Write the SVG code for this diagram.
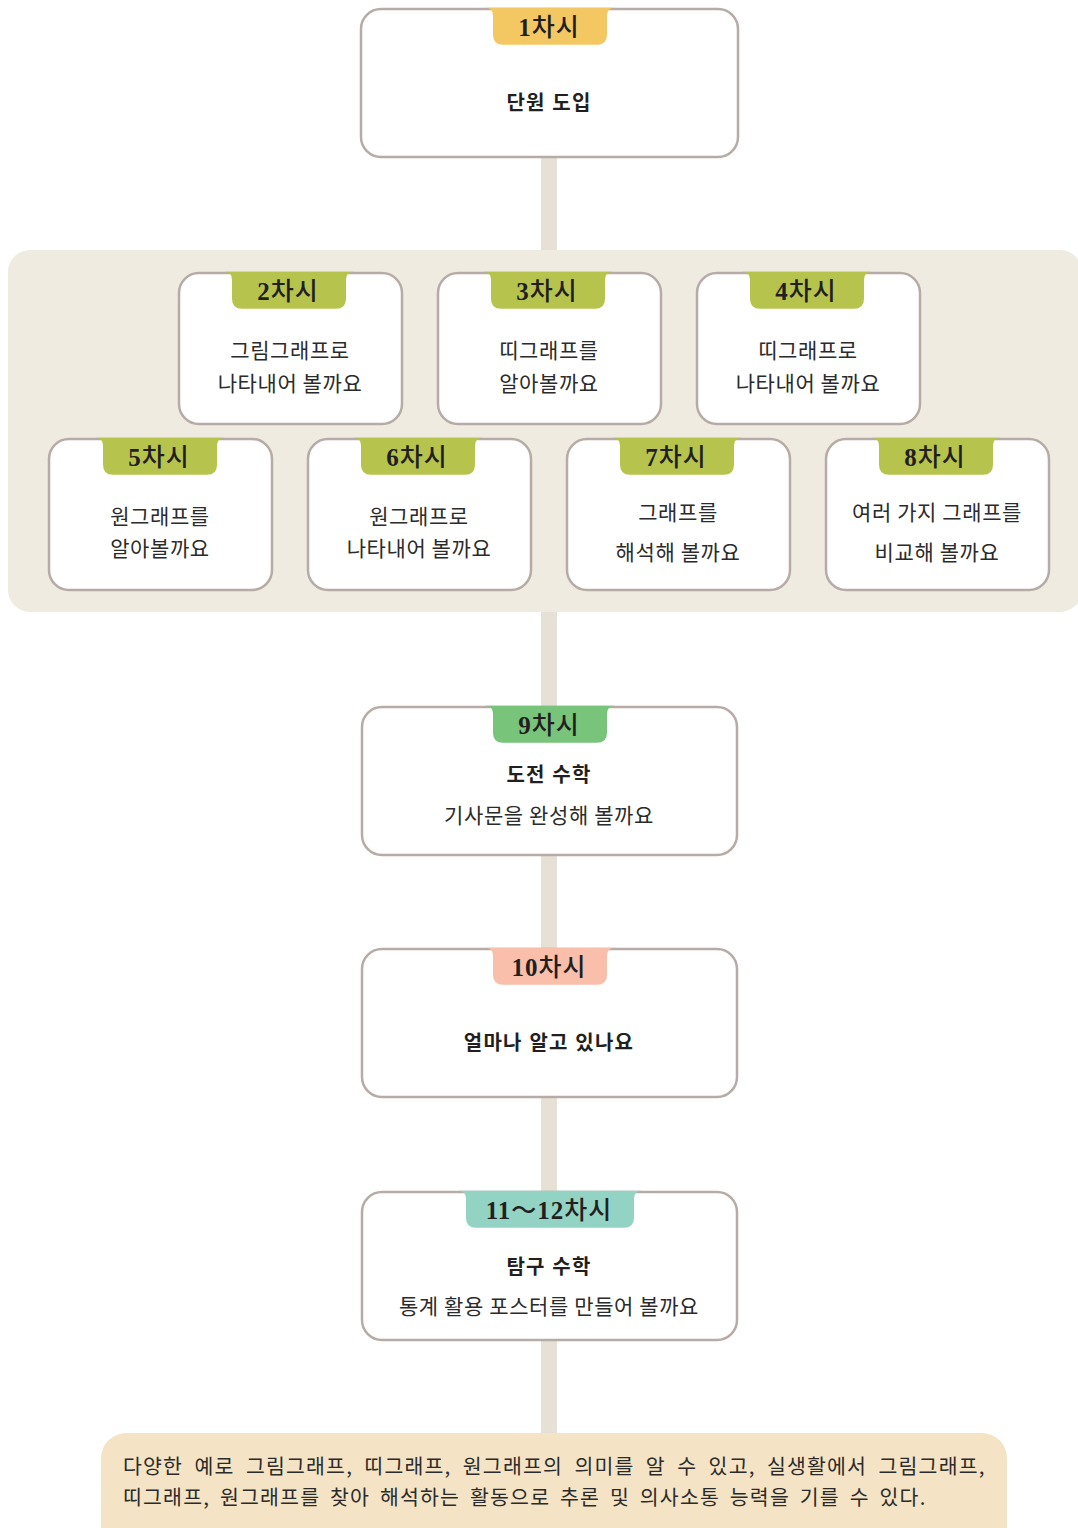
<svg xmlns="http://www.w3.org/2000/svg" width="1078" height="1528" viewBox="0 0 1078 1528">
<style>
.box{fill:#fff;stroke:#b6aba6;stroke-width:2.5}
.conn{fill:none;stroke:#e6e1d4;stroke-width:16}
.tab{font-family:"Liberation Serif","Noto Sans CJK KR",serif;font-size:25px;fill:#231f20;text-anchor:middle;font-weight:500;letter-spacing:1px}
.num{font-weight:bold}
.t{font-family:"Noto Sans CJK KR","Noto Sans",sans-serif;font-size:21px;fill:#2b2b2b;text-anchor:middle;letter-spacing:0.6px}
.b{font-family:"Noto Sans CJK KR","Noto Sans",sans-serif;font-size:20px;fill:#231f20;text-anchor:middle;font-weight:bold;letter-spacing:1.2px;word-spacing:1px}
.goal{font-family:"Noto Sans CJK KR","Noto Sans",sans-serif;font-size:20.5px;fill:#2b2b2b;letter-spacing:1.2px;word-spacing:4px}
.goal1{word-spacing:5.7px}
.y{fill:#f3c862}.g{fill:#b6c44d}.gr{fill:#78c47a}.s{fill:#f9bfaa}.tl{fill:#93d3c4}
</style>
<defs>
<path id="tab114" d="M-65,0 Q-57,0 -57,8 L-57,27 Q-57,37 -47,37 L47,37 Q57,37 57,27 L57,8 Q57,0 65,0 Z"/>
<path id="tab168" d="M-92,0 Q-84,0 -84,8 L-84,27 Q-84,37 -74,37 L74,37 Q84,37 84,27 L84,8 Q84,0 92,0 Z"/>
</defs>
<rect x="0" y="0" width="1078" height="1528" fill="#fff"/>
<g id="connectors">
<line class="conn" x1="549" y1="157" x2="549" y2="252"/>
<line class="conn" x1="549" y1="610" x2="549" y2="707"/>
<line class="conn" x1="549" y1="855" x2="549" y2="949"/>
<line class="conn" x1="549" y1="1097" x2="549" y2="1192"/>
<line class="conn" x1="549" y1="1340" x2="549" y2="1435"/>
</g>
<rect id="panel" x="8" y="250" width="1074" height="362" rx="22" fill="#efebe0"/>
<g id="n1">
<rect class="box" x="361" y="9" width="377" height="148" rx="20"/>
<use href="#tab114" class="y" x="550" y="7.8"/>
<text class="tab" x="549" y="35.5"><tspan class="num">1</tspan>차시</text>
<text class="b" x="549" y="110">단원 도입</text>
</g>
<g id="n2">
<rect class="box" x="179" y="273" width="223" height="151" rx="20"/>
<use href="#tab114" class="g" x="289" y="271.8"/>
<text class="tab" x="288" y="299.5"><tspan class="num">2</tspan>차시</text>
<text class="t" x="290" y="358">그림그래프로</text>
<text class="t" x="290" y="391">나타내어 볼까요</text>
</g>
<g id="n3">
<rect class="box" x="438" y="273" width="223" height="151" rx="20"/>
<use href="#tab114" class="g" x="548" y="271.8"/>
<text class="tab" x="547" y="299.5"><tspan class="num">3</tspan>차시</text>
<text class="t" x="549" y="358">띠그래프를</text>
<text class="t" x="549" y="391">알아볼까요</text>
</g>
<g id="n4">
<rect class="box" x="697" y="273" width="223" height="151" rx="20"/>
<use href="#tab114" class="g" x="807" y="271.8"/>
<text class="tab" x="806" y="299.5"><tspan class="num">4</tspan>차시</text>
<text class="t" x="808" y="358">띠그래프로</text>
<text class="t" x="808" y="391">나타내어 볼까요</text>
</g>
<g id="n5">
<rect class="box" x="49" y="439" width="223" height="151" rx="20"/>
<use href="#tab114" class="g" x="160" y="437.8"/>
<text class="tab" x="159" y="465.5"><tspan class="num">5</tspan>차시</text>
<text class="t" x="160" y="524">원그래프를</text>
<text class="t" x="160" y="556">알아볼까요</text>
</g>
<g id="n6">
<rect class="box" x="308" y="439" width="223" height="151" rx="20"/>
<use href="#tab114" class="g" x="418" y="437.8"/>
<text class="tab" x="417" y="465.5"><tspan class="num">6</tspan>차시</text>
<text class="t" x="419" y="524">원그래프로</text>
<text class="t" x="419" y="556">나타내어 볼까요</text>
</g>
<g id="n7">
<rect class="box" x="567" y="439" width="223" height="151" rx="20"/>
<use href="#tab114" class="g" x="677" y="437.8"/>
<text class="tab" x="676" y="465.5"><tspan class="num">7</tspan>차시</text>
<text class="t" x="678" y="520">그래프를</text>
<text class="t" x="678" y="560">해석해 볼까요</text>
</g>
<g id="n8">
<rect class="box" x="826" y="439" width="223" height="151" rx="20"/>
<use href="#tab114" class="g" x="936" y="437.8"/>
<text class="tab" x="935" y="465.5"><tspan class="num">8</tspan>차시</text>
<text class="t" x="937" y="520">여러 가지 그래프를</text>
<text class="t" x="937" y="560">비교해 볼까요</text>
</g>
<g id="n9">
<rect class="box" x="362" y="707" width="375" height="148" rx="20"/>
<use href="#tab114" class="gr" x="550" y="705.8"/>
<text class="tab" x="549" y="733.5"><tspan class="num">9</tspan>차시</text>
<text class="b" x="549" y="782">도전 수학</text>
<text class="t" x="549" y="823">기사문을 완성해 볼까요</text>
</g>
<g id="n10">
<rect class="box" x="362" y="949" width="375" height="148" rx="20"/>
<use href="#tab114" class="s" x="550" y="947.8"/>
<text class="tab" x="549" y="975.5"><tspan class="num">10</tspan>차시</text>
<text class="b" x="549" y="1050">얼마나 알고 있나요</text>
</g>
<g id="n11">
<rect class="box" x="362" y="1192" width="375" height="148" rx="20"/>
<use href="#tab168" class="tl" x="550" y="1190.8"/>
<text class="tab" x="549" y="1218.5"><tspan class="num">11</tspan>～<tspan class="num">12</tspan>차시</text>
<text class="b" x="549" y="1274">탐구 수학</text>
<text class="t" x="549" y="1314">통계 활용 포스터를 만들어 볼까요</text>
</g>
<g id="goal">
<rect x="101" y="1433" width="906" height="120" rx="25" fill="#f4e4c5"/>
<text class="goal goal1" x="123" y="1474" style="word-spacing:5.5px">다양한 예로 그림그래프, 띠그래프, 원그래프의 의미를 알 수 있고, 실생활에서 그림그래프,</text>
<text class="goal" x="123" y="1505">띠그래프, 원그래프를 찾아 해석하는 활동으로 추론 및 의사소통 능력을 기를 수 있다.</text>
</g>
</svg>
